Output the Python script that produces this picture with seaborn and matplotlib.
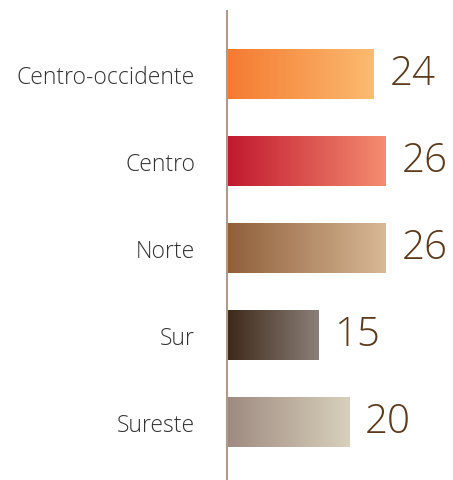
import matplotlib
matplotlib.use("Agg")
import matplotlib.pyplot as plt
import matplotlib.colors as mcolors
import numpy as np
import pandas as pd
import seaborn as sns

categories = ["Centro-occidente", "Centro", "Norte", "Sur", "Sureste"]
values = [24, 26, 26, 15, 20]
left_colors = ["#f47a30", "#c0182e", "#8f5f3a", "#3d2818", "#9e8a80"]
right_colors = ["#fbbb70", "#f58c70", "#d8b896", "#8a7f78", "#d8d0bc"]

sns.set_style("white")
plt.rcParams['font.family'] = ['Open Sans', 'DejaVu Sans']

df = pd.DataFrame({"region": categories, "valor": values})

fig = plt.figure(figsize=(4.53, 4.81), dpi=100)
ax = fig.add_axes([227/453, 0, 1 - 227/453, 469/481])
sns.barplot(data=df, x="valor", y="region", orient="h", width=0.575, ax=ax,
            color="white")

for i, p in enumerate(ax.patches):
    x0, y0 = p.get_x(), p.get_y()
    w, h = p.get_width(), p.get_height()
    cmap = mcolors.LinearSegmentedColormap.from_list("g", [left_colors[i], right_colors[i]])
    grad = np.linspace(0, 1, 256).reshape(1, -1)
    im = ax.imshow(grad, cmap=cmap, aspect="auto",
                   extent=(x0, x0 + w, y0 + h, y0), zorder=2)
    im.set_clip_path(p)
    p.set_edgecolor("none")
    ax.text(x0 + w + 2.6, y0 + h / 2, str(values[i]), va="center", ha="left",
            fontsize=29, color="#5a3a1a", fontweight="light")

ax.set_xlim(0, 37)
ax.set_ylim(4.672, -0.722)

ax.set_xlabel("")
ax.set_ylabel("")
ax.set_xticks([])
ax.tick_params(axis="y", length=0, pad=23, labelsize=16.5, labelcolor="#333333")
for lbl in ax.get_yticklabels():
    lbl.set_fontweight("light")
for s in ["top", "right", "bottom"]:
    ax.spines[s].set_visible(False)
ax.spines["left"].set_color("#b09a88")
ax.spines["left"].set_linewidth(1.5)

fig.savefig("out.png", dpi=100)
